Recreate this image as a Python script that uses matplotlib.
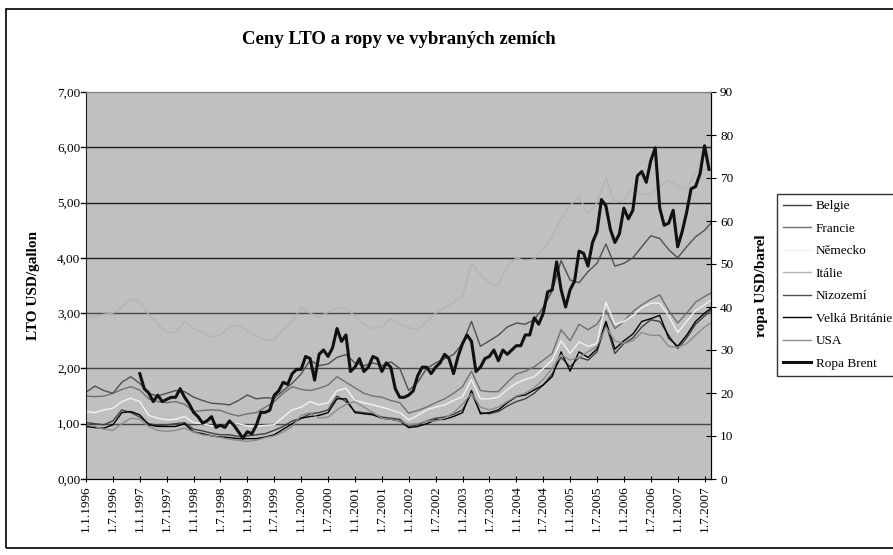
import matplotlib
matplotlib.use('Agg')
import matplotlib.pyplot as plt
from matplotlib.patches import Rectangle

plt.rcParams['font.family'] = ['Liberation Serif', 'DejaVu Serif']

# --- data ---
# LTO prices, USD/gallon, sampled every two months from 1.1.1996
lto_start = 1996.0
lto_step = 1 / 6

belgie = [1.02, 1.0, 0.98, 1.05, 1.25, 1.2, 1.12, 1.0, 0.97, 0.98, 1.0, 1.02,
          0.9, 0.87, 0.83, 0.8, 0.8, 0.77, 0.78, 0.8, 0.82, 0.88, 0.95, 1.05,
          1.1, 1.18, 1.2, 1.25, 1.5, 1.4, 1.22, 1.2, 1.18, 1.12, 1.1, 1.08,
          0.95, 0.98, 1.05, 1.1, 1.12, 1.17, 1.25, 1.55, 1.2, 1.18, 1.22, 1.32,
          1.4, 1.45, 1.55, 1.7, 1.9, 2.2, 2.03, 2.2, 2.15, 2.3, 2.8, 2.27,
          2.45, 2.55, 2.75, 2.88, 2.85, 2.6, 2.36, 2.55, 2.8, 2.95, 3.09]
francie = [1.5, 1.49, 1.5, 1.55, 1.62, 1.67, 1.61, 1.45, 1.4, 1.38, 1.4, 1.35,
           1.22, 1.24, 1.25, 1.24, 1.18, 1.14, 1.18, 1.2, 1.3, 1.4, 1.55, 1.67,
           1.62, 1.6, 1.64, 1.7, 1.85, 1.75, 1.65, 1.55, 1.5, 1.48, 1.42, 1.38,
           1.19, 1.24, 1.3, 1.38, 1.45, 1.55, 1.67, 1.95, 1.6, 1.58, 1.58, 1.75,
           1.9, 1.95, 2.03, 2.15, 2.27, 2.7, 2.5, 2.8, 2.7, 2.8, 3.05, 2.72,
           2.85, 3.03, 3.15, 3.25, 3.33, 3.05, 2.82, 3.0, 3.2, 3.3, 3.39]
nemecko = [1.22, 1.2, 1.25, 1.28, 1.4, 1.46, 1.4, 1.15, 1.1, 1.07, 1.08, 1.13,
           1.02, 1.0, 0.96, 0.95, 0.98, 1.0, 0.96, 0.95, 0.97, 0.98, 1.12, 1.25,
           1.3, 1.4, 1.34, 1.38, 1.6, 1.64, 1.42, 1.38, 1.34, 1.3, 1.25, 1.2,
           1.07, 1.15, 1.25, 1.3, 1.34, 1.42, 1.49, 1.8, 1.45, 1.45, 1.48, 1.62,
           1.73, 1.8, 1.85, 2.0, 2.15, 2.5, 2.27, 2.48, 2.4, 2.45, 3.2, 2.8,
           2.85, 2.95, 3.1, 3.18, 3.18, 2.95, 2.65, 2.85, 3.05, 3.15, 3.27]
italie = [2.91, 2.95, 2.98, 3.0, 3.1, 3.27, 3.2, 2.98, 2.8, 2.65, 2.65, 2.85,
          2.72, 2.65, 2.57, 2.6, 2.75, 2.78, 2.68, 2.58, 2.52, 2.52, 2.7, 2.85,
          3.1, 3.0, 2.93, 3.02, 3.1, 3.08, 2.95, 2.8, 2.72, 2.75, 2.9, 2.8,
          2.74, 2.7, 2.85, 3.0, 3.1, 3.2, 3.3, 3.9, 3.7, 3.55, 3.5, 3.85,
          4.0, 3.95, 3.98, 4.15, 4.38, 4.7, 4.95, 5.1, 4.8, 5.0, 5.45, 5.0,
          5.05, 5.28, 5.15, 5.15, 5.3, 5.4, 5.3, 5.25, 5.55, 5.6, 5.62]
nizozemi = [1.57, 1.68, 1.6, 1.55, 1.75, 1.85, 1.73, 1.55, 1.5, 1.55, 1.6, 1.58,
            1.48, 1.42, 1.37, 1.36, 1.34, 1.42, 1.52, 1.45, 1.47, 1.46, 1.6, 1.73,
            1.9, 2.15, 2.05, 2.08, 2.2, 2.25, 2.1, 2.05, 2.1, 2.05, 2.12, 2.0,
            1.6, 1.75, 2.0, 2.1, 2.18, 2.25, 2.45, 2.85, 2.4, 2.5, 2.6, 2.75,
            2.82, 2.8, 2.88, 3.1, 3.4, 3.95, 3.6, 3.55, 3.75, 3.9, 4.25, 3.85,
            3.9, 4.0, 4.2, 4.4, 4.35, 4.15, 4.0, 4.2, 4.38, 4.5, 4.68]
velka_britanie = [0.95, 0.93, 0.92, 0.98, 1.2, 1.22, 1.16, 0.98, 0.95, 0.95, 0.95, 1.0,
                  0.85, 0.82, 0.78, 0.76, 0.75, 0.73, 0.73, 0.73, 0.76, 0.8, 0.9, 1.0,
                  1.1, 1.13, 1.15, 1.2, 1.45, 1.45, 1.2, 1.18, 1.16, 1.1, 1.08, 1.05,
                  0.93, 0.95, 1.0, 1.07, 1.08, 1.13, 1.2, 1.6, 1.18, 1.2, 1.25, 1.38,
                  1.49, 1.52, 1.61, 1.7, 1.85, 2.3, 1.95, 2.3, 2.2, 2.35, 2.85, 2.35,
                  2.5, 2.62, 2.85, 2.9, 2.96, 2.55, 2.4, 2.6, 2.85, 3.0, 3.12]
usa = [0.98, 0.95, 0.9, 0.88, 1.0, 1.1, 1.08, 0.95, 0.88, 0.86, 0.88, 0.92,
       0.85, 0.8, 0.78, 0.75, 0.72, 0.7, 0.68, 0.7, 0.75, 0.78, 0.85, 0.95,
       1.15, 1.2, 1.1, 1.12, 1.25, 1.35, 1.4, 1.3, 1.2, 1.1, 1.08, 1.05,
       0.98, 1.0, 1.05, 1.05, 1.1, 1.2, 1.35, 1.55, 1.3, 1.25, 1.3, 1.4,
       1.5, 1.55, 1.65, 1.8, 2.0, 2.25, 2.15, 2.2, 2.3, 2.4, 2.75, 2.5,
       2.45, 2.5, 2.65, 2.6, 2.6, 2.4, 2.38, 2.45, 2.6, 2.75, 2.85]

# Brent, USD/barrel, monthly from 1.1.1997
brent_start = 1997.0
brent = [24.5, 21.0, 20.0, 18.0, 19.5, 18.0, 18.5, 19.0, 19.0, 21.0, 19.0, 17.5,
         15.5, 14.5, 13.0, 13.5, 14.5, 12.0, 12.5, 12.0, 13.5, 12.5, 11.0, 9.5,
         11.0, 10.5, 12.5, 15.5, 15.5, 16.0, 19.5, 20.5, 22.5, 22.0, 24.5, 25.5,
         25.5, 28.5, 28.0, 23.0, 29.0, 30.0, 28.5, 30.5, 35.0, 32.0, 33.5, 25.0,
         26.0, 28.0, 25.0, 26.0, 28.5, 28.0, 25.0, 27.0, 26.0, 21.0, 19.0, 19.0,
         19.5, 20.5, 24.0, 26.0, 26.0, 24.5, 26.0, 27.0, 29.0, 28.0, 24.5, 28.5,
         31.5, 33.5, 32.0, 25.0, 26.0, 28.0, 28.5, 30.0, 27.5, 30.0, 29.0, 30.0,
         31.0, 31.0, 33.5, 33.5, 37.5, 36.0, 38.5, 43.5, 44.0, 50.5, 44.0, 40.0,
         44.0, 46.0, 53.0, 52.5, 49.5, 55.0, 57.5, 65.0, 63.5, 58.0, 55.0, 57.0,
         63.0, 60.5, 62.5, 70.5, 71.5, 69.0, 74.0, 77.0, 63.0, 59.0, 59.5, 62.5,
         54.0, 57.5, 62.0, 67.5, 68.0, 71.0, 77.5, 72.0]

series_names = ['Belgie', 'Francie', 'Německo', 'Itálie', 'Nizozemí',
                'Velká Británie', 'USA']
series_values = [belgie, francie, nemecko, italie, nizozemi, velka_britanie, usa]
series_colors = ['#404040', '#707070', '#f2f2f2', '#b4b4b4', '#505050',
                 '#000000', '#8c8c8c']

tick_years = [1996 + 0.5 * i for i in range(24)]
tick_labels = [('1.1.' if i % 2 == 0 else '1.7.') + str(1996 + i // 2)
               for i in range(24)]

# --- figure ---
fig = plt.figure(figsize=(8.93, 5.55), dpi=100)
fig.patches.append(Rectangle((0.007, 0.013), 1.2, 0.97, transform=fig.transFigure,
                             fill=False, ec='black', lw=1.2))

ax = fig.add_axes([86 / 893, 1 - 479 / 555, 625 / 893, 387 / 555])
ax.set_facecolor('#c0c0c0')

for name, vals, col in zip(series_names, series_values, series_colors):
    xs = [lto_start + i * lto_step for i in range(len(vals))]
    ax.plot(xs, vals, color=col, lw=1.0, label=name)

ax.set_xlim(1996.0, 2007.62)
ax.set_ylim(0, 7)
ax.set_yticks(range(8))
ax.set_yticklabels([f'{v},00' for v in range(8)], fontsize=9.5)
ax.set_xticks(tick_years)
ax.set_xticklabels(tick_labels, rotation=90, fontsize=9.5)
ax.tick_params(axis='x', direction='inout', length=5, pad=2)
ax.tick_params(axis='y', direction='in', length=0, pad=4)
# gridlines: lower ones a bit lighter, as in the original
for v in range(1, 7):
    ax.axhline(v, color='#484848' if v <= 3 else '#202020', lw=1.0, zorder=0.5)
ax.set_ylabel('LTO USD/gallon', fontsize=11, fontweight='bold')
ax.yaxis.set_label_coords(-0.074, 0.5)
for side in ['left', 'bottom']:
    ax.spines[side].set_color('#202020')
ax.spines['top'].set_color('#808080')

ax2 = ax.twinx()
bx = [brent_start + i / 12 for i in range(len(brent))]
ax2.plot(bx, brent, color='#111111', lw=2.2, label='Ropa Brent')
ax2.set_ylim(0, 90)
ax2.set_yticks(range(0, 100, 10))
ax2.set_yticklabels([str(v) for v in range(0, 100, 10)], fontsize=9.5)
ax2.tick_params(axis='y', direction='inout', length=7, pad=3)
ax2.set_ylabel('ropa USD/barel', fontsize=11, fontweight='bold')
ax2.yaxis.set_label_coords(1.070, 0.5)
ax2.spines['top'].set_color('#808080')
ax2.spines['left'].set_visible(False)

# left ticks drawn outward like the original
for v in range(8):
    ax.plot([-0.008, 0], [v, v], transform=ax.get_yaxis_transform(),
            color='black', lw=1, clip_on=False)

fig.text(398.5 / 893, 1 - 40 / 555, 'Ceny LTO a ropy ve vybraných zemích',
         ha='center', va='center', fontsize=13.5, fontweight='bold')

h1, l1 = ax.get_legend_handles_labels()
h2, l2 = ax2.get_legend_handles_labels()
leg = fig.legend(h1 + h2, l1 + l2, loc='upper left',
                 bbox_to_anchor=(777 / 893, 1 - 194 / 555), fontsize=9.5,
                 frameon=True, fancybox=False, handlelength=2.1,
                 handletextpad=0.4, labelspacing=0.78, borderpad=0.45,
                 borderaxespad=0)
leg.get_frame().set_edgecolor('black')
leg.get_frame().set_linewidth(1.0)

plt.savefig('out.png', dpi=100)
